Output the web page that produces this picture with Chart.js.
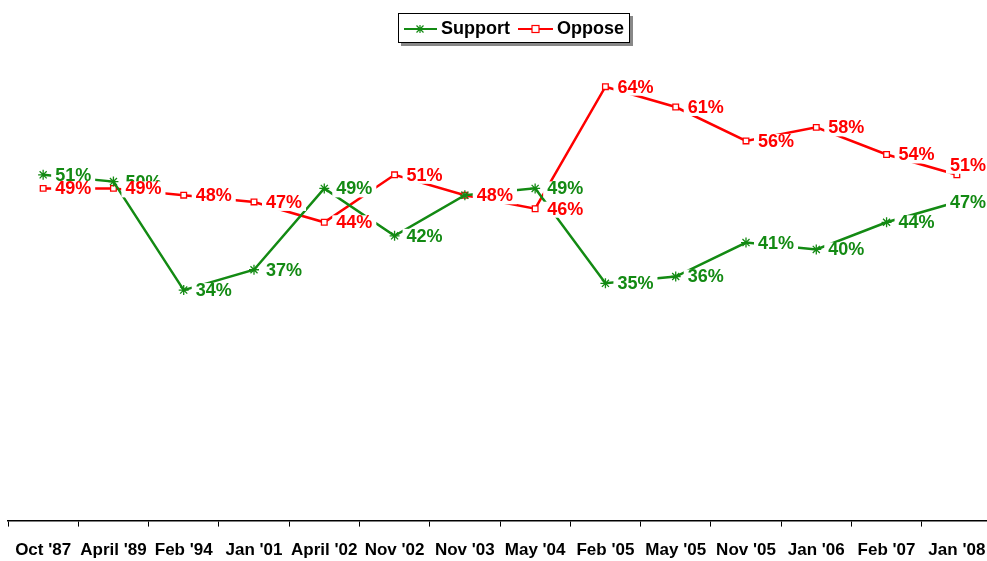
<!DOCTYPE html>
<html>
<head>
<meta charset="utf-8">
<script src="https://cdn.jsdelivr.net/npm/chart.js@4/dist/chart.umd.min.js"></script>
<style>
  html, body { margin: 0; padding: 0; background: #fff; }
  #frame { position: relative; width: 987px; height: 561px; overflow: hidden; }
  #pollChart { position: absolute; left: 0; top: 0; display: block; }
</style>
</head>
<body>
<div id="frame"><canvas id="pollChart" width="992" height="575"></canvas></div>
<script>
const surveyDates = ["Oct '87", "April '89", "Feb '94", "Jan '01", "April '02", "Nov '02", "Nov '03",
  "May '04", "Feb '05", "May '05", "Nov '05", "Jan '06", "Feb '07", "Jan '08"];
const support = [51, 50, 34, 37, 49, 42, 48, 49, 35, 36, 41, 40, 44, 47];
const oppose = [49, 49, 48, 47, 44, 51, 48, 46, 64, 61, 56, 58, 54, 51];

const GREEN = "#138a13";
const RED = "#ff0000";
const labelFont = "bold 18px 'Liberation Sans', Arial, sans-serif";
const VISIBLE_RIGHT = 986;

// percent labels to the right of each point, on a white box that hides the lines under it
const valueLabels = {
  id: "valueLabels",
  afterDatasetsDraw(chart) {
    const ctx = chart.ctx;
    ctx.save();
    ctx.font = labelFont;
    ctx.textBaseline = "middle";
    chart.data.datasets.forEach((ds, i) => {
      const meta = chart.getDatasetMeta(i);
      meta.data.forEach((pt, j) => {
        const txt = ds.data[j] + "%";
        const w = ctx.measureText(txt).width;
        let x = pt.x + 12;
        let y = pt.y + 1;
        if (x + w > VISIBLE_RIGHT) {
          // pushed back inside the picture, like the original
          x = VISIBLE_RIGHT - w;
          if (i === 1) y -= 10;
        }
        ctx.fillStyle = "#fff";
        ctx.fillRect(x - 4, y - 8, w + 8, 16);
        ctx.fillStyle = ds.borderColor;
        ctx.fillText(txt, x, y);
      });
    });
    ctx.restore();
  }
};

// boxed legend at the top, like the original
const boxLegend = {
  id: "boxLegend",
  afterDraw(chart) {
    const ctx = chart.ctx;
    ctx.save();
    ctx.fillStyle = "#888";
    ctx.fillRect(401, 16, 232, 30);
    ctx.fillStyle = "#fff";
    ctx.fillRect(398, 13, 232, 30);
    ctx.strokeStyle = "#000";
    ctx.lineWidth = 1;
    ctx.strokeRect(398.5, 13.5, 231, 29);

    ctx.lineWidth = 2;
    ctx.strokeStyle = GREEN;
    ctx.beginPath(); ctx.moveTo(404, 29); ctx.lineTo(437, 29); ctx.stroke();
    ctx.lineWidth = 1.2;
    ctx.beginPath();
    ctx.moveTo(420, 25); ctx.lineTo(420, 33);
    ctx.moveTo(416.5, 25.5); ctx.lineTo(423.5, 32.5);
    ctx.moveTo(423.5, 25.5); ctx.lineTo(416.5, 32.5);
    ctx.stroke();

    ctx.lineWidth = 2;
    ctx.strokeStyle = RED;
    ctx.beginPath(); ctx.moveTo(518, 29); ctx.lineTo(553, 29); ctx.stroke();
    ctx.fillStyle = "#fff";
    ctx.fillRect(532, 25.5, 7, 7);
    ctx.lineWidth = 1.2;
    ctx.strokeRect(532, 25.5, 7, 7);

    ctx.fillStyle = "#000";
    ctx.font = "bold 18px 'Liberation Sans', Arial, sans-serif";
    ctx.textBaseline = "middle";
    ctx.fillText("Support", 441, 29);
    ctx.fillText("Oppose", 557, 29);
    ctx.restore();
  }
};

new Chart(document.getElementById("pollChart"), {
  type: "line",
  data: {
    labels: surveyDates,
    datasets: [
      {
        label: "Support",
        data: support,
        borderColor: GREEN,
        backgroundColor: GREEN,
        borderWidth: 2.5,
        pointStyle: "star",
        pointRadius: 5,
        pointBorderWidth: 1.3,
        tension: 0,
        fill: false
      },
      {
        label: "Oppose",
        data: oppose,
        borderColor: RED,
        backgroundColor: "#fff",
        borderWidth: 2.5,
        pointStyle: "rect",
        pointRadius: 4,
        pointBorderWidth: 1.3,
        tension: 0,
        fill: false
      }
    ]
  },
  options: {
    responsive: false,
    animation: false,
    layout: { autoPadding: false, padding: { top: 46, left: 8, right: 0, bottom: 0 } },
    scales: {
      x: {
        offset: true,
        // the label padding would otherwise also pad the axis sideways
        afterFit(scale) {
          scale.paddingLeft = 0;
          scale.paddingRight = 0;
        },
        grid: {
          offset: true,
          drawOnChartArea: false,
          drawTicks: true,
          tickLength: 6,
          color: "#000",
          lineWidth: 1
        },
        border: { color: "#000", width: 1.5 },
        ticks: {
          color: "#000",
          autoSkip: false,
          maxRotation: 0,
          padding: 14,
          font: { family: "'Liberation Sans', Arial, sans-serif", size: 17, weight: "bold" }
        }
      },
      y: {
        display: false,
        min: 0,
        max: 70
      }
    },
    plugins: {
      legend: { display: false },
      tooltip: { enabled: false }
    }
  },
  plugins: [valueLabels, boxLegend]
});
</script>
</body>
</html>
